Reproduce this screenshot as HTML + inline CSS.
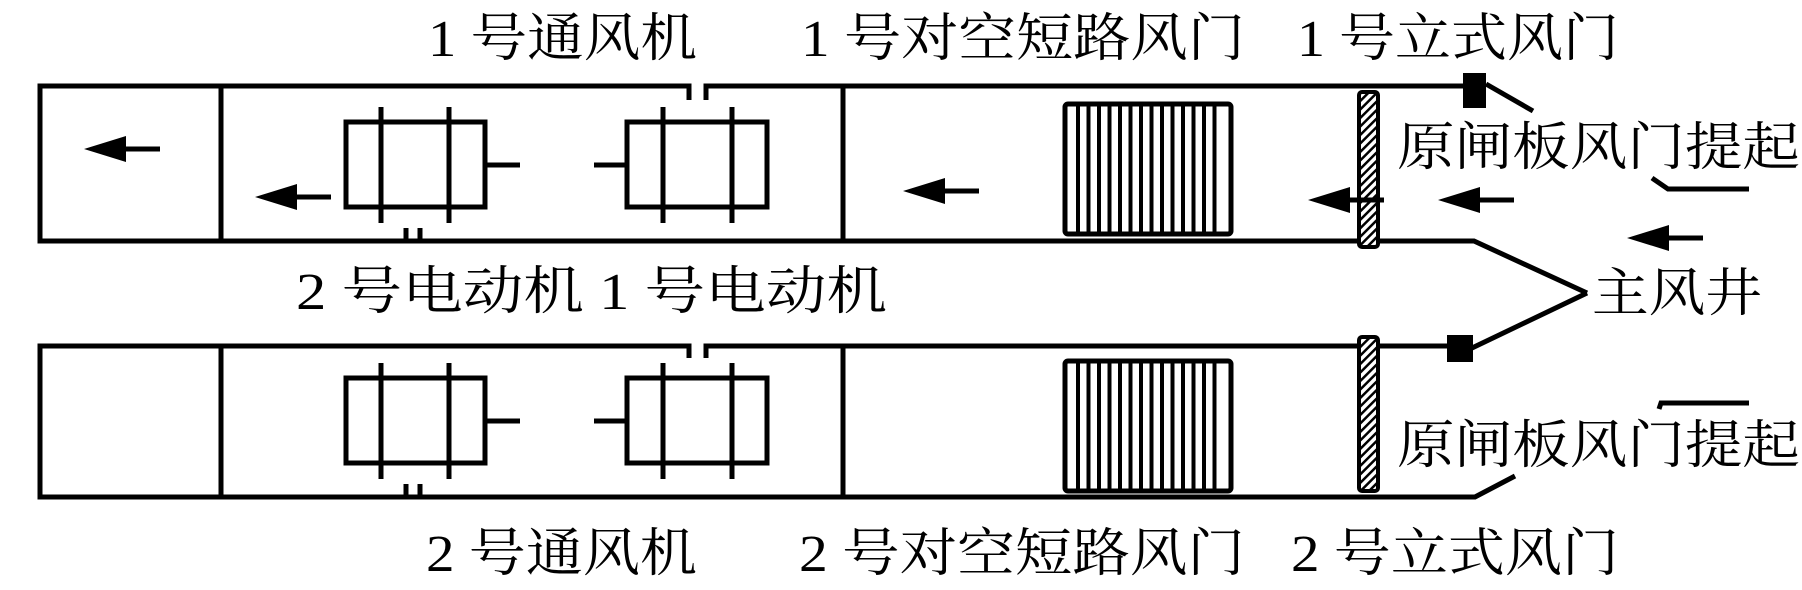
<!DOCTYPE html>
<html><head><meta charset="utf-8"><style>
html,body{margin:0;padding:0;background:#fff;}
svg{display:block;}
text{font-family:"Liberation Serif","Noto Serif CJK SC",serif;font-size:52px;fill:#000;}
</style></head><body>
<svg width="1802" height="590" viewBox="0 0 1802 590" xmlns="http://www.w3.org/2000/svg">
<defs>
<pattern id="h" width="6" height="6" patternUnits="userSpaceOnUse" patternTransform="rotate(45)">
<rect width="6" height="6" fill="#fff"/><rect width="2.5" height="6" fill="#000"/></pattern>
<g id="arr"><polygon points="0,0 42,-13 42,13" fill="#000"/><line x1="30" y1="0" x2="76" y2="0" stroke="#000" stroke-width="5"/></g>
<g id="louver">
<rect x="1065" y="0" width="166" height="130" rx="3" fill="none" stroke="#000" stroke-width="5"/>
<g stroke="#000" stroke-width="4">
<line x1="1078" y1="0" x2="1078" y2="130"/><line x1="1088.5" y1="0" x2="1088.5" y2="130"/><line x1="1099" y1="0" x2="1099" y2="130"/><line x1="1109.5" y1="0" x2="1109.5" y2="130"/><line x1="1120" y1="0" x2="1120" y2="130"/><line x1="1130.5" y1="0" x2="1130.5" y2="130"/><line x1="1141" y1="0" x2="1141" y2="130"/><line x1="1151.5" y1="0" x2="1151.5" y2="130"/><line x1="1162" y1="0" x2="1162" y2="130"/><line x1="1172.5" y1="0" x2="1172.5" y2="130"/><line x1="1183" y1="0" x2="1183" y2="130"/><line x1="1193.5" y1="0" x2="1193.5" y2="130"/><line x1="1204" y1="0" x2="1204" y2="130"/><line x1="1214.5" y1="0" x2="1214.5" y2="130"/>
</g></g>
<g id="motors" fill="none" stroke="#000" stroke-width="5">
<rect x="346" y="0" width="139" height="85"/>
<line x1="381" y1="-15" x2="381" y2="101"/><line x1="449" y1="-15" x2="449" y2="101"/>
<line x1="485" y1="43" x2="520" y2="43"/>
<rect x="627" y="0" width="140" height="85"/>
<line x1="663" y1="-15" x2="663" y2="101"/><line x1="732" y1="-15" x2="732" y2="101"/>
<line x1="594" y1="43" x2="627" y2="43"/>
</g>
</defs>

<g fill="none" stroke="#000" stroke-width="5" stroke-linejoin="miter">
<!-- top duct -->
<polyline points="689,100 689,86 40,86 40,241 1474,241 1587,293"/>
<polyline points="706,100 706,86 1475,86"/>
<line x1="221" y1="86" x2="221" y2="241"/>
<line x1="843" y1="86" x2="843" y2="241"/>
<line x1="406" y1="228" x2="406" y2="241"/><line x1="420" y1="228" x2="420" y2="241"/>
<line x1="1486" y1="84" x2="1533" y2="111"/>
<!-- bottom duct -->
<polyline points="689,358 689,346 40,346 40,497 1475,497 1515,476"/>
<polyline points="706,358 706,346 1460,346"/>
<line x1="1472" y1="348" x2="1587" y2="293"/>
<line x1="221" y1="346" x2="221" y2="497"/>
<line x1="843" y1="346" x2="843" y2="497"/>
<line x1="406" y1="484" x2="406" y2="497"/><line x1="420" y1="484" x2="420" y2="497"/>
<!-- underline hooks -->
<polyline points="1652,178 1668,189 1749,189"/>
<polyline points="1659,409 1661,403 1749,403"/>
</g>
<use href="#motors" transform="translate(0,122)"/>
<use href="#motors" transform="translate(0,378)"/>
<use href="#louver" transform="translate(0,104)"/>
<use href="#louver" transform="translate(0,361)"/>
<rect x="1359" y="92" width="19" height="155" rx="3" fill="url(#h)" stroke="#000" stroke-width="4"/>
<rect x="1359" y="337" width="19" height="154" rx="3" fill="url(#h)" stroke="#000" stroke-width="4"/>
<rect x="1463" y="73" width="23" height="35" fill="#000"/>
<rect x="1447" y="335" width="26" height="27" fill="#000"/>

<use href="#arr" transform="translate(84,149)"/>
<use href="#arr" transform="translate(255,197)"/>
<use href="#arr" transform="translate(903,191)"/>
<use href="#arr" transform="translate(1308,200)"/>
<use href="#arr" transform="translate(1438,200)"/>
<use href="#arr" transform="translate(1627,238)"/>

<text x="428" y="56" textLength="269" lengthAdjust="spacingAndGlyphs">1 号通风机</text>
<text x="801" y="56" textLength="444" lengthAdjust="spacingAndGlyphs">1 号对空短路风门</text>
<text x="1297" y="56" textLength="322" lengthAdjust="spacingAndGlyphs">1 号立式风门</text>
<text x="1397" y="165" textLength="403" lengthAdjust="spacingAndGlyphs">原闸板风门提起</text>
<text x="296" y="309" textLength="591" lengthAdjust="spacingAndGlyphs">2 号电动机  1 号电动机</text>
<text x="1592" y="311" textLength="170" lengthAdjust="spacingAndGlyphs">主风井</text>
<text x="1397" y="463" textLength="403" lengthAdjust="spacingAndGlyphs">原闸板风门提起</text>
<text x="426" y="571" textLength="271" lengthAdjust="spacingAndGlyphs">2 号通风机</text>
<text x="799" y="571" textLength="446" lengthAdjust="spacingAndGlyphs">2 号对空短路风门</text>
<text x="1291" y="571" textLength="328" lengthAdjust="spacingAndGlyphs">2 号立式风门</text>
</svg>
</body></html>
